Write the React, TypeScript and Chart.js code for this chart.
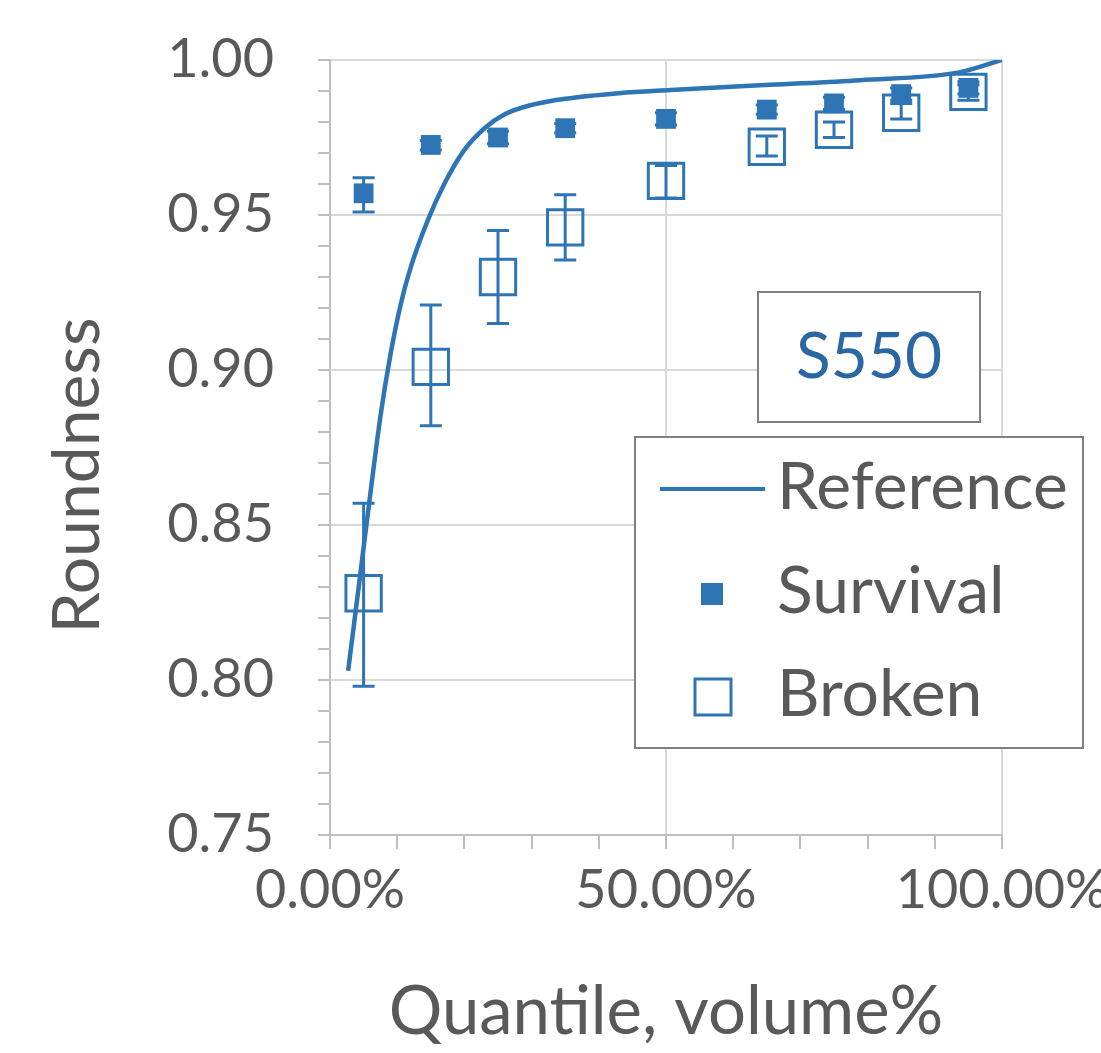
import React, { useEffect, useRef } from 'react';
import { Chart, registerables } from 'chart.js';

Chart.register(...registerables);

// Reference curve (Quantile %, Roundness)
const refX = [2.7, 4.5, 6.0, 7.5, 9.0, 10.5, 12.0, 14.5, 17.0, 20.0, 23.0, 26.0, 30.0, 35.0, 43.0, 50.7, 65.5, 78.9, 93.6, 100];
const refY = [0.803, 0.834, 0.86, 0.885, 0.905, 0.921, 0.933, 0.948, 0.96, 0.971, 0.978, 0.9825, 0.9855, 0.9875, 0.9893, 0.9903, 0.992, 0.9935, 0.996, 1.0];

// Measured quantiles
const quantiles = [5, 15, 25, 35, 50, 65, 75, 85, 95];

const survival = [0.957, 0.9726, 0.975, 0.978, 0.981, 0.984, 0.986, 0.989, 0.991];
const survivalLow = [0.951, 0.971, 0.973, 0.9765, 0.979, 0.9825, 0.984, 0.987, 0.989];
const survivalHigh = [0.962, 0.974, 0.977, 0.9795, 0.983, 0.9855, 0.988, 0.991, 0.993];

const broken = [0.828, 0.901, 0.93, 0.946, 0.961, 0.972, 0.9775, 0.983, 0.9897];
const brokenLow = [0.798, 0.882, 0.915, 0.9355, 0.9555, 0.969, 0.975, 0.981, 0.987];
const brokenHigh = [0.857, 0.921, 0.945, 0.9565, 0.966, 0.9755, 0.98, 0.986, 0.992];

const xMajor = [0, 50, 100];
const seriesNames = ['Reference', 'Survival', 'Broken'];
const sampleName = 'S550';
const xTitle = 'Quantile, volume%';
const yTitle = 'Roundness';

const BLUE = '#2e75b6';
const GRAY_TEXT = '#595959';
const FONT = 'Lato';

const errorBarPlugin = {
  id: 'errorBars',
  afterDatasetsDraw(chart: any) {
    const { ctx } = chart;
    const x = chart.scales.x;
    const y = chart.scales.y;
    ctx.save();
    ctx.strokeStyle = BLUE;
    ctx.lineWidth = 3;
    const cap = 11;
    const draw = (lows: number[], highs: number[]) => {
      quantiles.forEach((q, i) => {
        const px = x.getPixelForValue(q);
        const y1 = y.getPixelForValue(lows[i]);
        const y2 = y.getPixelForValue(highs[i]);
        ctx.beginPath();
        ctx.moveTo(px, y1);
        ctx.lineTo(px, y2);
        ctx.moveTo(px - cap, y1);
        ctx.lineTo(px + cap, y1);
        ctx.moveTo(px - cap, y2);
        ctx.lineTo(px + cap, y2);
        ctx.stroke();
      });
    };
    draw(brokenLow, brokenHigh);
    draw(survivalLow, survivalHigh);
    ctx.restore();
  },
};

const boxesPlugin = {
  id: 'boxes',
  afterDraw(chart: any) {
    const { ctx, chartArea } = chart;
    const L = chartArea.left;
    const T = chartArea.top;
    ctx.save();

    // Y axis title (rotated)
    ctx.fillStyle = GRAY_TEXT;
    ctx.font = `66px ${FONT}`;
    ctx.textAlign = 'center';
    ctx.textBaseline = 'middle';
    ctx.save();
    ctx.translate(L - 252, (chartArea.top + chartArea.bottom) / 2 + 28);
    ctx.rotate(-Math.PI / 2);
    ctx.fillText(yTitle, 0, 0);
    ctx.restore();

    // Sample label box
    const sx = L + 428, sy = T + 232, sw = 222, sh = 130;
    ctx.fillStyle = '#ffffff';
    ctx.fillRect(sx, sy, sw, sh);
    ctx.strokeStyle = '#7f7f7f';
    ctx.lineWidth = 2;
    ctx.strokeRect(sx, sy, sw, sh);
    ctx.fillStyle = '#2b68a3';
    ctx.font = `64px ${FONT}`;
    ctx.textAlign = 'center';
    ctx.textBaseline = 'middle';
    ctx.fillText(sampleName, sx + sw / 2, sy + sh / 2);

    // Legend box
    const lx = L + 305, ly = T + 377, lw = 448, lh = 311;
    ctx.fillStyle = '#ffffff';
    ctx.fillRect(lx, ly, lw, lh);
    ctx.strokeStyle = '#7f7f7f';
    ctx.lineWidth = 2;
    ctx.strokeRect(lx, ly, lw, lh);

    const textX = lx + 142;
    const rows = [ly + 51, ly + 155, ly + 258];
    ctx.font = `66px ${FONT}`;
    ctx.textAlign = 'left';
    ctx.textBaseline = 'middle';
    ctx.fillStyle = GRAY_TEXT;
    seriesNames.forEach((n, i) => ctx.fillText(n, textX, rows[i]));

    // Reference line sample
    ctx.strokeStyle = BLUE;
    ctx.lineWidth = 4;
    ctx.beginPath();
    ctx.moveTo(lx + 25, rows[0] + 1);
    ctx.lineTo(lx + 130, rows[0] + 1);
    ctx.stroke();
    // Survival filled square
    ctx.fillStyle = BLUE;
    ctx.fillRect(lx + 77 - 11, rows[1] + 2 - 11, 22, 22);
    // Broken hollow square
    ctx.strokeStyle = BLUE;
    ctx.lineWidth = 3;
    ctx.strokeRect(lx + 78 - 18, rows[2] + 2 - 18, 36, 36);
    ctx.restore();
  },
};

export default function App() {
  const canvasRef = useRef<HTMLCanvasElement>(null);

  useEffect(() => {
    if (!canvasRef.current) return;
    const chart = new Chart(canvasRef.current, {
      type: 'scatter',
      data: {
        datasets: [
          {
            label: seriesNames[0],
            data: refX.map((x, i) => ({ x, y: refY[i] })),
            showLine: true,
            borderColor: BLUE,
            backgroundColor: BLUE,
            borderWidth: 4.5,
            pointRadius: 0,
            cubicInterpolationMode: 'monotone',
            order: 0,
          },
          {
            label: seriesNames[1],
            data: quantiles.map((x, i) => ({ x, y: survival[i] })),
            pointStyle: 'rect',
            pointRadius: 14,
            backgroundColor: BLUE,
            borderColor: BLUE,
            borderWidth: 0,
            order: 1,
          },
          {
            label: seriesNames[2],
            data: quantiles.map((x, i) => ({ x, y: broken[i] })),
            pointStyle: 'rect',
            pointRadius: 25,
            backgroundColor: 'rgba(0,0,0,0)',
            borderColor: BLUE,
            borderWidth: 3,
            order: 2,
          },
        ],
      },
      options: {
        animation: false,
        responsive: false,
        maintainAspectRatio: false,
        layout: { padding: { top: 60, right: 99, left: 0, bottom: 0 } },
        plugins: {
          legend: { display: false },
          tooltip: { enabled: false },
        },
        scales: {
          x: {
            type: 'linear',
            min: 0,
            max: 100,
            afterFit(scale: any) {
              scale.height = 218;
              scale.paddingLeft = 0;
              scale.paddingRight = 0;
            },
            ticks: {
              stepSize: 10,
              autoSkip: false,
              maxRotation: 0,
              minRotation: 0,
              padding: 9,
              color: GRAY_TEXT,
              font: { family: FONT, size: 54 },
              callback: (v: any) => (xMajor.includes(Number(v)) ? Number(v).toFixed(2) + '%' : ''),
            },
            grid: {
              color: (c: any) => (c.tick && xMajor.includes(c.tick.value) ? '#d9d9d9' : 'rgba(0,0,0,0)'),
              tickColor: '#bfbfbf',
              tickLength: 14,
              lineWidth: 2,
            },
            border: { color: '#bfbfbf', width: 2 },
            title: {
              display: true,
              text: xTitle,
              color: GRAY_TEXT,
              font: { family: FONT, size: 67 },
              padding: { top: 0, bottom: 0 },
            },
          },
          y: {
            type: 'linear',
            min: 0.75,
            max: 1.0,
            afterFit(scale: any) {
              scale.width = 330;
              scale.paddingTop = 0;
              scale.paddingBottom = 0;
            },
            ticks: {
              stepSize: 0.01,
              autoSkip: false,
              padding: 44,
              color: GRAY_TEXT,
              font: { family: FONT, size: 54 },
              callback: (v: any) => {
                const k = Math.round(Number(v) * 100);
                return k % 5 === 0 ? (k / 100).toFixed(2) : '';
              },
            },
            grid: {
              color: (c: any) =>
                c.tick && Math.round(c.tick.value * 100) % 5 === 0 ? '#d9d9d9' : 'rgba(0,0,0,0)',
              tickColor: '#bfbfbf',
              tickLength: 12,
              lineWidth: 2,
            },
            border: { color: '#bfbfbf', width: 2 },
            title: { display: false },
          },
        },
      },
      plugins: [errorBarPlugin, boxesPlugin],
    } as any);
    return () => chart.destroy();
  }, []);

  return (
    <div style={{ position: 'absolute', left: 0, top: 0, width: 1101, height: 1053, background: '#ffffff' }}>
      <canvas ref={canvasRef} width={1101} height={1053} style={{ display: 'block', width: 1101, height: 1053 }} />
    </div>
  );
}
